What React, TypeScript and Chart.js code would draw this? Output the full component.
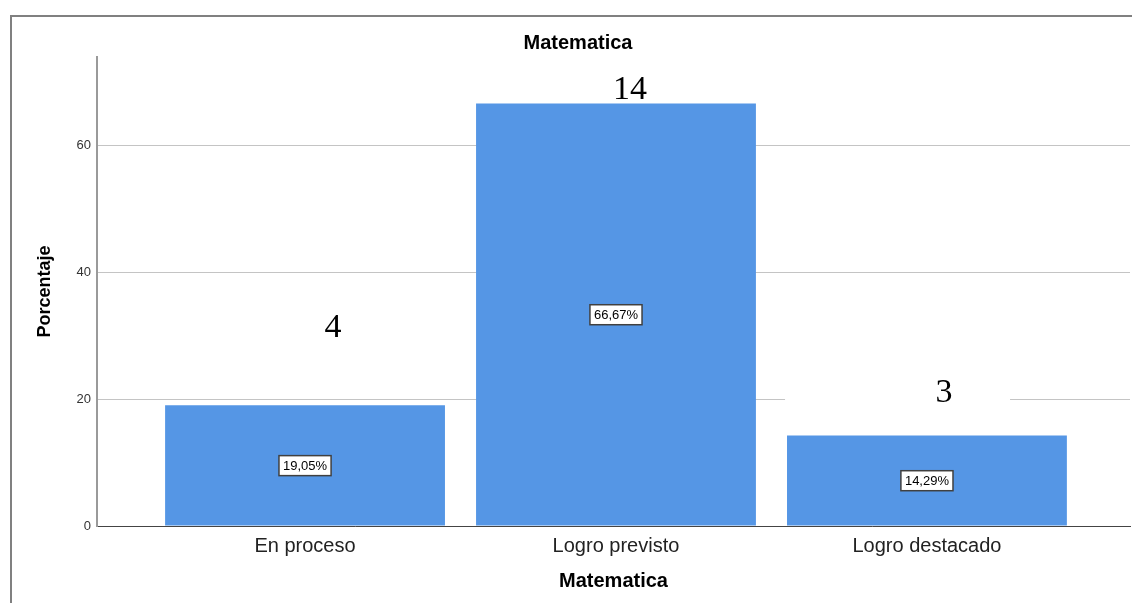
import React, { useEffect, useRef } from "react";
import { Chart, registerables } from "chart.js";

Chart.register(...registerables);

const chartTitle = "Matematica";
const xAxisTitle = "Matematica";
const yAxisTitle = "Porcentaje";
const categories = ["En proceso", "Logro previsto", "Logro destacado"];
const percentages = [19.05, 66.67, 14.29];
const percentLabels = ["19,05%", "66,67%", "14,29%"];
const countLabels = ["4", "14", "3"];
// where the pasted count labels sit, in data units (y) and category offset (x)
const countLabelY = [31.2, 68.8, 21.0];
const countLabelDx = [0.09, 0.045, 0.055];
const yTicks = [0, 20, 40, 60];
const yMax = 74;
const xMin = -0.669;
const xMax = 2.653;

const SANS = '"Liberation Sans", Arial, sans-serif';
const SERIF = '"Liberation Serif", "Times New Roman", serif';

const labelsPlugin = {
  id: "spssLabels",
  beforeDatasetsDraw(chart: any) {
    const { ctx, scales } = chart;
    const xs = scales.x;
    const ys = scales.y;
    ctx.save();
    ctx.fillStyle = "#ffffff";
    countLabels.forEach((_, i) => {
      const cx = xs.getPixelForValue(i + countLabelDx[i]);
      const cy = ys.getPixelForValue(countLabelY[i]);
      ctx.fillRect(cx - 159, cy - 20, 225, 40);
    });
    ctx.restore();
  },
  afterDatasetsDraw(chart: any) {
    const { ctx, scales } = chart;
    const xs = scales.x;
    const ys = scales.y;
    ctx.save();
    ctx.font = `13px ${SANS}`;
    ctx.textAlign = "center";
    ctx.textBaseline = "middle";
    percentages.forEach((v, i) => {
      const cx = xs.getPixelForValue(i);
      const cy = ys.getPixelForValue(v / 2);
      const w = ctx.measureText(percentLabels[i]).width + 8;
      const h = 20;
      ctx.fillStyle = "#ffffff";
      ctx.fillRect(cx - w / 2, cy - h / 2, w, h);
      ctx.strokeStyle = "#404040";
      ctx.lineWidth = 1.5;
      ctx.strokeRect(cx - w / 2, cy - h / 2, w, h);
      ctx.fillStyle = "#000000";
      ctx.fillText(percentLabels[i], cx, cy + 1);
    });
    ctx.font = `34px ${SERIF}`;
    ctx.fillStyle = "#000000";
    countLabels.forEach((t, i) => {
      const cx = xs.getPixelForValue(i + countLabelDx[i]);
      const cy = ys.getPixelForValue(countLabelY[i]);
      ctx.fillText(t, cx, cy);
    });
    ctx.restore();
  },
};

export default function App() {
  const canvasRef = useRef<HTMLCanvasElement | null>(null);

  useEffect(() => {
    if (!canvasRef.current) return;
    const chart = new Chart(canvasRef.current, {
      type: "bar",
      data: {
        datasets: [
          {
            data: percentages.map((v, i) => ({ x: i, y: v })),
            backgroundColor: "#5596E5",
            borderWidth: 0,
            barPercentage: 0.9,
            categoryPercentage: 1.0,
          },
        ],
      },
      plugins: [labelsPlugin],
      options: {
        animation: false,
        responsive: false,
        maintainAspectRatio: false,
        layout: { padding: { left: 26, right: 2, top: 0, bottom: 0 } },
        plugins: {
          legend: { display: false },
          tooltip: { enabled: false },
          title: {
            display: true,
            text: chartTitle,
            color: "#000000",
            font: { family: SANS, size: 20, weight: "bold", lineHeight: 1.2 },
            padding: { top: 31, bottom: 2 },
          },
        },
        scales: {
          x: {
            type: "linear",
            min: xMin,
            max: xMax,
            offset: false,
            grid: { display: false, drawTicks: false },
            border: { display: true, color: "#444444", width: 1 },
            afterBuildTicks: (scale: any) => {
              scale.ticks = categories.map((_, i) => ({ value: i }));
            },
            afterFit: (scale: any) => {
              scale.height = 77;
            },
            ticks: {
              autoSkip: false,
              maxRotation: 0,
              padding: 8,
              color: "#222222",
              font: { family: SANS, size: 20 },
              callback: (v: any) => categories[v] ?? "",
            },
            title: {
              display: true,
              text: xAxisTitle,
              color: "#000000",
              font: { family: SANS, size: 20, weight: "bold", lineHeight: 1.2 },
              padding: { top: 0, bottom: 10 },
            },
          },
          y: {
            type: "linear",
            min: 0,
            max: yMax,
            grid: { color: "#c4c4c4", lineWidth: 1, drawTicks: false },
            border: { display: true, color: "#9a9a9a", width: 2 },
            afterBuildTicks: (scale: any) => {
              scale.ticks = yTicks.map((v) => ({ value: v }));
            },
            afterFit: (scale: any) => {
              scale.width = 71;
            },
            ticks: {
              padding: 6,
              color: "#333333",
              font: { family: SANS, size: 13 },
            },
            title: {
              display: true,
              text: yAxisTitle,
              color: "#000000",
              font: { family: SANS, size: 18, weight: "bold", lineHeight: 1.2 },
              padding: { top: 8, bottom: 0 },
            },
          },
        },
      },
    });
    return () => chart.destroy();
  }, []);

  return (
    <div style={{ position: "fixed", left: 0, top: 0, width: 1132, height: 603, background: "#ffffff" }}>
      <div
        style={{
          position: "absolute",
          left: 10,
          top: 15,
          width: 1140,
          height: 600,
          borderTop: "2px solid #808080",
          borderLeft: "2px solid #808080",
        }}
      />
      <canvas ref={canvasRef} width={1132} height={603} style={{ position: "absolute", left: 0, top: 0 }} />
    </div>
  );
}
